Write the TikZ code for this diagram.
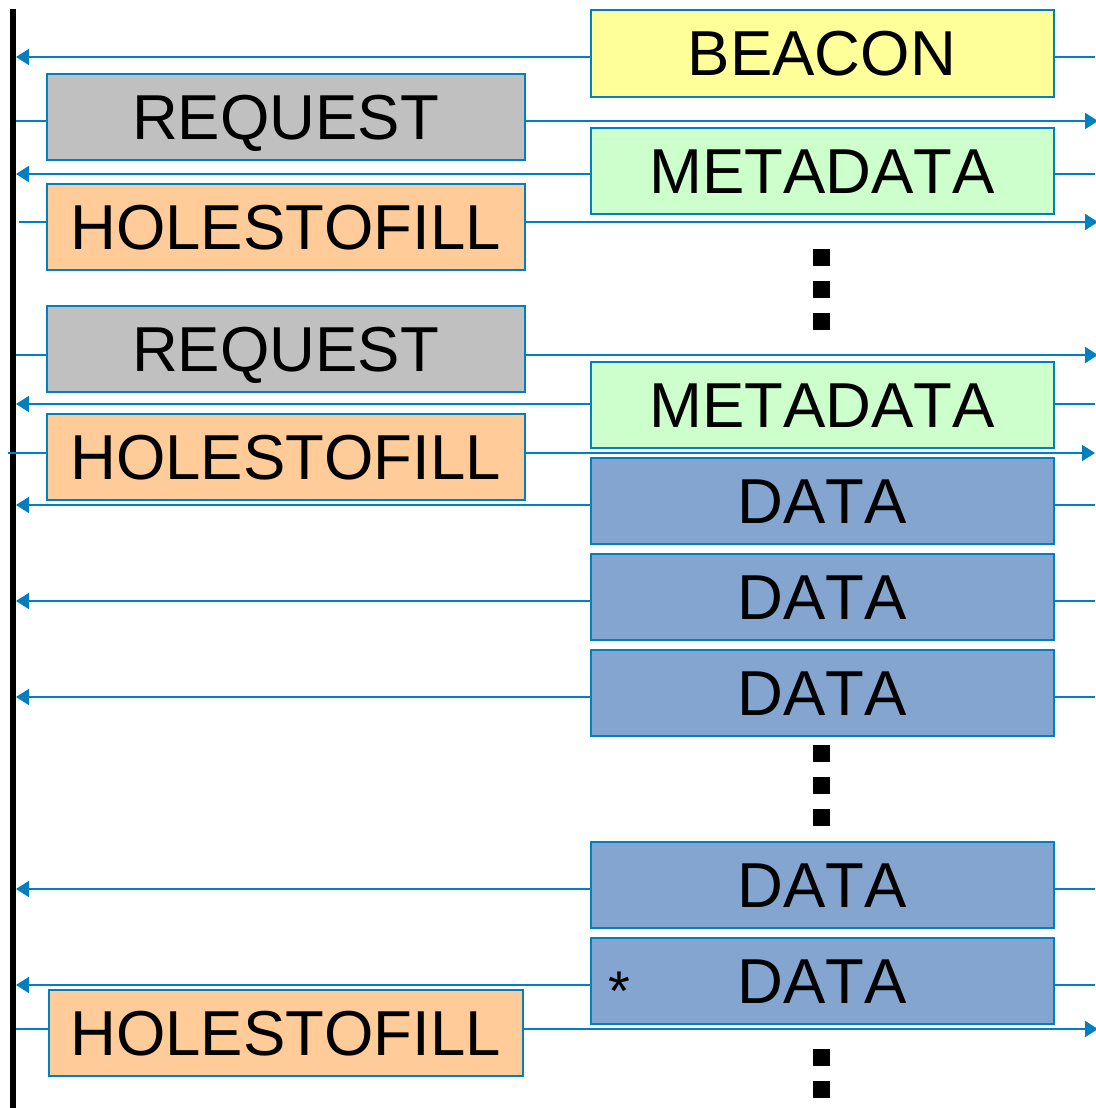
\documentclass[tikz,border=0pt]{standalone}
\usepackage{fontspec}
\setmainfont{Liberation Sans}[Kerning=Off]
\usetikzlibrary{arrows.meta}
\definecolor{lnblue}{RGB}{0,128,192}
\definecolor{cbeacon}{RGB}{255,255,153}
\definecolor{creq}{RGB}{192,192,192}
\definecolor{cmeta}{RGB}{204,255,204}
\definecolor{choles}{RGB}{255,204,153}
\definecolor{cdata}{RGB}{132,165,208}
\begin{document}
\begin{tikzpicture}[x=1pt,y=-1pt,
  pkt/.style={draw=lnblue, line width=2pt, inner sep=0pt, minimum height=86pt,
    font=\fontsize{63.5}{70}\selectfont, text height=45pt, text depth=0pt},
  rbox/.style={pkt, minimum width=463pt},
  lbox/.style={pkt, minimum width=478pt},
  conn/.style={draw=lnblue, line width=2pt},
  arr/.style={conn, -{Triangle[length=13pt,width=16pt]}},
  dotsq/.style={fill=black, minimum size=17pt, inner sep=0pt}]
\useasboundingbox (0,0) rectangle (1095,1108);
% time line
\coordinate (vtop) at (13,9);
\coordinate (vbot) at (13,1108);
\draw[line width=6pt] (vtop) -- (vbot);
\coordinate (vl) at (16,0);
\coordinate (vl2) at (19,0);
\coordinate (vl3) at (8,0);
\coordinate (re) at (1095,0);
\coordinate (ret) at (1098,0);
% row levels
\foreach \n/\y in {a/57,b/121,c/174,d/222,e/355,f/404,g/453,h/505,i/601,j/697,k/889,l/985,m/1029}
  \coordinate (y\n) at (0,\y);
% right column packets
\node[rbox, fill=cbeacon] (beacon) at (822,53.5) {BEACON};
\node[rbox, fill=cmeta] (meta1) at (822,170.5) {METADATA};
\node[rbox, fill=cmeta] (meta2) at (822,405) {METADATA};
\node[rbox, fill=cdata] (data1) at (822,501) {DATA};
\node[rbox, fill=cdata] (data2) at (822,597) {DATA};
\node[rbox, fill=cdata] (data3) at (822,693) {DATA};
\node[rbox, fill=cdata] (data4) at (822,885) {DATA};
\node[rbox, fill=cdata] (data5) at (822,981) {DATA};
\node[inner sep=0pt, anchor=north, font=\fontsize{56}{60}\selectfont] (star) at (619,972) {*};
% left column packets
\node[lbox, fill=creq] (req1) at (285.5,117) {REQUEST};
\node[lbox, fill=choles] (hol1) at (285.5,226.5) {HOLESTOFILL};
\node[lbox, fill=creq] (req2) at (285.5,349) {REQUEST};
\node[lbox, fill=choles] (hol2) at (285.5,457) {HOLESTOFILL};
\node[pkt, minimum width=474pt, fill=choles] (hol3) at (285.5,1033) {HOLESTOFILL};
% dots
\foreach \n/\y in {1/257,2/289,3/321,4/753,5/785,6/817,7/1057,8/1089}
  \node[dotsq] (dot\n) at (821,\y) {};
% connectors from right packets (towards the time line)
\draw[arr] (beacon.west |- ya) -- (vl |- ya);
\draw[conn] (beacon.east |- ya) -- (re |- ya);
\draw[arr] (meta1.west |- yc) -- (vl |- yc);
\draw[conn] (meta1.east |- yc) -- (re |- yc);
\draw[arr] (meta2.west |- yf) -- (vl |- yf);
\draw[conn] (meta2.east |- yf) -- (re |- yf);
\draw[arr] (data1.west |- yh) -- (vl |- yh);
\draw[conn] (data1.east |- yh) -- (re |- yh);
\draw[arr] (data2.west |- yi) -- (vl |- yi);
\draw[conn] (data2.east |- yi) -- (re |- yi);
\draw[arr] (data3.west |- yj) -- (vl |- yj);
\draw[conn] (data3.east |- yj) -- (re |- yj);
\draw[arr] (data4.west |- yk) -- (vl |- yk);
\draw[conn] (data4.east |- yk) -- (re |- yk);
\draw[arr] (data5.west |- yl) -- (vl |- yl);
\draw[conn] (data5.east |- yl) -- (re |- yl);
% connectors from left packets (away from the time line)
\draw[conn] (vl |- yb) -- (req1.west |- yb);
\draw[arr] (req1.east |- yb) -- (ret |- yb);
\draw[conn] (vl2 |- yd) -- (hol1.west |- yd);
\draw[arr] (hol1.east |- yd) -- (ret |- yd);
\draw[conn] (vl |- ye) -- (req2.west |- ye);
\draw[arr] (req2.east |- ye) -- (ret |- ye);
\draw[conn] (vl3 |- yg) -- (hol2.west |- yg);
\draw[arr] (hol2.east |- yg) -- (re |- yg);
\draw[conn] (vl |- ym) -- (hol3.west |- ym);
\draw[arr] (hol3.east |- ym) -- (ret |- ym);
\end{tikzpicture}
\end{document}
